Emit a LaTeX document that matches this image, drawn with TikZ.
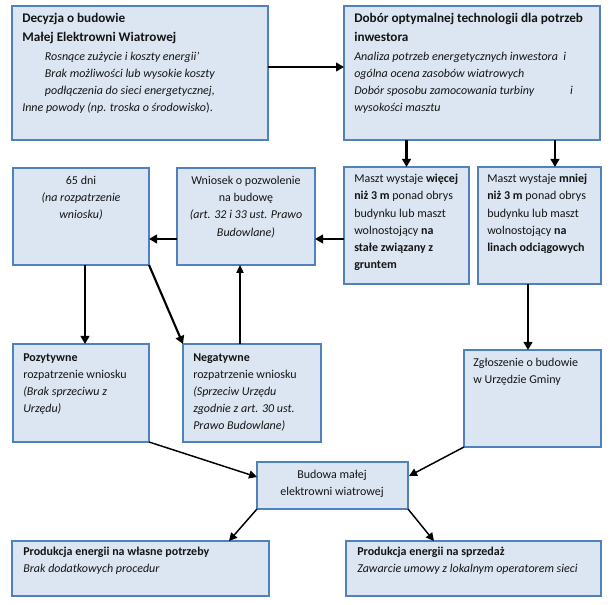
\documentclass[tikz,border=0pt]{standalone}
\usepackage{fontspec}
\setmainfont{Carlito}
\usetikzlibrary{arrows.meta,fit}
\definecolor{boxfill}{HTML}{DCE6F2}
\definecolor{boxline}{HTML}{4F81BD}
\definecolor{txtcol}{HTML}{141414}
\newcommand{\hdfont}{\fontsize{9.9pt}{12.9pt}\selectfont\bfseries}
\tikzset{
  box/.style={draw=boxline, fill=boxfill, line width=0.8pt, inner sep=0pt, outer sep=0pt, rectangle},
  ltxt/.style={anchor=north west, inner sep=0pt, align=left, text=txtcol, font=\fontsize{9pt}{12.9pt}\selectfont},
  ctxt/.style={anchor=north, inner sep=0pt, align=center, text=txtcol, font=\fontsize{9pt}{12.9pt}\selectfont},
  arrA/.style={line width=1.6pt, -{Triangle[length=6pt,width=6.5pt]}},
  arrB/.style={line width=1.1pt, -{Triangle[length=6pt,width=6pt]}},
  arrC/.style={line width=0.8pt, -{Triangle[length=6pt,width=5.5pt]}}
}
\begin{document}
\begin{tikzpicture}[x=0.75pt,y=-0.75pt]
\useasboundingbox (0,0) rectangle (614,605);
% boxes
\node[box, fit={(12,6) (268,140)}] (b1) {};
\node[box, fit={(344,6) (600,140)}] (b2) {};
\node[box, fit={(344,167) (469,284)}] (b3) {};
\node[box, fit={(478,167) (601,284)}] (b4) {};
\node[box, fit={(13,168) (149,265)}] (b5) {};
\node[box, fit={(177,168) (315,265)}] (b6) {};
\node[box, fit={(13,344) (149,442)}] (b7) {};
\node[box, fit={(183,344) (321,442)}] (b8) {};
\node[box, fit={(464,350) (601,447)}] (b9) {};
\node[box, fit={(257,462) (408,509)}] (b10) {};
\node[box, fit={(12,541) (269,596)}] (b11) {};
\node[box, fit={(346,541) (601,596)}] (b12) {};
% texts
\node[ltxt] (t1) at (22,13) {{\hdfont Decyzja o budowie}\\[1.6pt]
{\hdfont Małej Elektrowni Wiatrowej}\\[0.8pt]
\hspace*{17pt}\textit{Rosnące zużycie i koszty energii'}\\
\hspace*{17pt}\textit{Brak możliwości lub wysokie koszty}\\
\hspace*{17pt}\textit{podłączenia do sieci energetycznej,}\\
\textit{Inne powody (np. troska o środowisko}).};
\node[ltxt] (t2) at (354,13) {{\hdfont Dobór optymalnej technologii dla potrzeb}\\[1.6pt]
{\hdfont inwestora}\\[0.8pt]
\textit{Analiza potrzeb energetycznych inwestora\ \ i}\\
\textit{ogólna ocena zasobów wiatrowych}\\
\textit{Dobór sposobu zamocowania turbiny\hspace{27pt}i}\\
\textit{wysokości masztu}};
\node[ltxt] (t3) at (354,174) {Maszt wystaje \textbf{więcej}\\
\textbf{niż 3 m} ponad obrys\\
budynku lub maszt\\
wolnostojący \textbf{na}\\
\textbf{stałe związany z}\\
\textbf{gruntem}};
\node[ltxt] (t4) at (487,174) {Maszt wystaje \textbf{mniej}\\
\textbf{niż 3 m} ponad obrys\\
budynku lub maszt\\
wolnostojący \textbf{na}\\
\textbf{linach odciągowych}};
\node[ctxt] (t5) at (81,176) {65 dni\\ \textit{(na rozpatrzenie}\\ \textit{wniosku)}};
\node[ctxt] (t6) at (246,176) {Wniosek o pozwolenie\\ na budowę\\ \textit{(art. 32 i 33 ust. Prawo}\\ \textit{Budowlane)}};
\node[ltxt] (t7) at (23,353) {\textbf{Pozytywne}\\ rozpatrzenie wniosku\\ \textit{(Brak sprzeciwu z}\\ \textit{Urzędu)}};
\node[ltxt] (t8) at (193,353) {\textbf{Negatywne}\\ rozpatrzenie wniosku\\ \textit{(Sprzeciw Urzędu}\\ \textit{zgodnie z art. 30 ust.}\\ \textit{Prawo Budowlane)}};
\node[ltxt] (t9) at (473,358) {Zgłoszenie o budowie\\ w Urzędzie Gminy};
\node[ctxt] (t10) at (332,470) {Budowa małej\\ elektrowni wiatrowej};
\node[ltxt] (t11) at (23,547) {\textbf{Produkcja energii na własne potrzeby}\\ \textit{Brak dodatkowych procedur}};
\node[ltxt] (t12) at (357,547) {\textbf{Produkcja energii na sprzedaż}\\ \textit{Zawarcie umowy z lokalnym operatorem sieci}};
% anchor coordinates
\coordinate (p12a) at ([yshift=4.5pt]b1.east);
\coordinate (p12b) at ([yshift=4.5pt]b2.west);
\coordinate (p4top) at ([xshift=11.6pt]b4.north);
\coordinate (p36) at (344,239);
\coordinate (p63) at (315,239);
\coordinate (p65) at (177,239);
\coordinate (p56) at (149,239);
\coordinate (p8top) at (240,344);
\coordinate (p6bot) at (240,265);
\coordinate (p4bot) at (528,284);
\coordinate (p9top) at (528,350);
\coordinate (p10r) at (409,476);
\coordinate (p10l) at (257,477);
\coordinate (p11top) at (229,541);
\coordinate (p12top) at (434,541);
% connectors
\draw[arrA] (p12a) -- (p12b);
\draw[arrA] (b2.south -| b3.north) -- (b3.north);
\draw[arrA] (b2.south -| p4top) -- (p4top);
\draw[arrA] (p36) -- (p63);
\draw[arrA] (p65) -- (p56);
\draw[arrA] ([xshift=3pt]b5.south) -- ([xshift=3pt]b7.north);
\draw[arrA] (b5.south east) -- (b8.north west);
\draw[arrC] (p8top) -- (p6bot);
\draw[arrA] (p4bot) -- (p9top);
\draw[arrB] (b9.south west) -- (p10r);
\draw[arrB] (b7.south east) -- (p10l);
\draw[arrB] (b10.south west) -- (p11top);
\draw[arrB] (b10.south east) -- (p12top);
\end{tikzpicture}
\end{document}
